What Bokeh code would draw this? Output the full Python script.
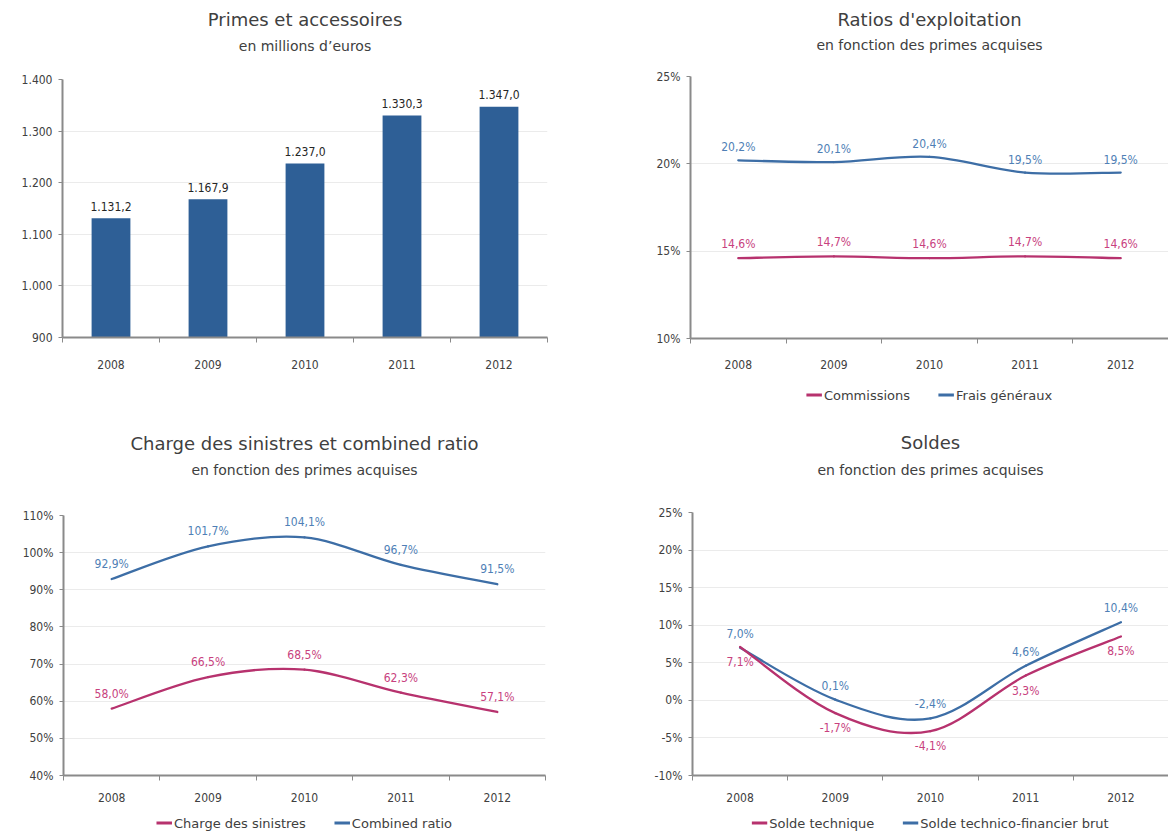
from bokeh.plotting import figure
from bokeh.models import Range1d, FixedTicker, Title, Legend, LegendItem, ColumnDataSource
from bokeh.layouts import column, row
from bokeh.core.properties import value
from bokeh.embed import file_html
from bokeh.resources import INLINE

# ---------------- data ----------------
years = ["2008", "2009", "2010", "2011", "2012"]

primes = [1131.2, 1167.9, 1237.0, 1330.3, 1347.0]
primes_ticks = [900, 1000, 1100, 1200, 1300, 1400]

commissions = [14.6, 14.7, 14.6, 14.7, 14.6]
frais_generaux = [20.2, 20.1, 20.4, 19.5, 19.5]
ratios_ticks = [10, 15, 20, 25]

charge_sinistres = [58.0, 66.5, 68.5, 62.3, 57.1]
combined_ratio = [92.9, 101.7, 104.1, 96.7, 91.5]
charge_ticks = [40, 50, 60, 70, 80, 90, 100, 110]

solde_technique = [7.1, -1.7, -4.1, 3.3, 8.5]
solde_tf_brut = [7.0, 0.1, -2.4, 4.6, 10.4]
soldes_ticks = [-10, -5, 0, 5, 10, 15, 20, 25]

# ---------------- style ----------------
TXT = "#404040"
AXIS = "#8A8A8A"
GRID = "#EBEBEB"
BAR = "#2E5F96"
BLUE = "#3D6EA6"
MAG = "#B7326E"
BLUE_LBL = "#4F7FB6"
MAG_LBL = "#C8417E"
FONT = "DejaVu Sans"
CFONT = "DejaVu Sans Condensed"

xs = list(range(len(years)))


def fr_num(v, dec=1):
    s = f"{v:,.{dec}f}"
    return s.replace(",", " ").replace(".", ",").replace(" ", ".")


def pct(v):
    return fr_num(v) + "%"


def make_fig(width, height, left, right, top, bottom, yr, yticks, ylabels, title, subtitle,
             spacer, sub_standoff, xlab_standoff):
    p = figure(width=width, height=height, x_range=Range1d(-0.5, 4.5), y_range=Range1d(*yr),
               output_backend="svg", toolbar_location=None, tools="",
               min_border_left=left, min_border_right=right,
               min_border_top=top, min_border_bottom=bottom)
    p.outline_line_color = None
    p.background_fill_color = "white"
    p.border_fill_color = "white"
    p.title.text = title
    p.title.align = "center"
    p.title.text_font = FONT
    p.title.text_font_size = "18px"
    p.title.text_font_style = "normal"
    p.title.text_color = TXT
    p.title.standoff = 4
    # spacer between the frame and the subtitle (closest to the frame)
    p.add_layout(Title(text=" ", text_font_size="2px", standoff=spacer), "above")
    st = Title(text=subtitle, align="center", text_font=FONT, text_font_size="14px",
               text_font_style="normal", text_color=TXT, standoff=sub_standoff)
    p.add_layout(st, "above")

    # x axis
    xa = p.xaxis[0]
    xa.ticker = FixedTicker(ticks=xs, minor_ticks=[i - 0.5 for i in range(len(years) + 1)])
    xa.major_label_overrides = {i: y for i, y in enumerate(years)}
    xa.major_tick_out = 0
    xa.major_tick_in = 0
    xa.minor_tick_out = 5
    xa.minor_tick_in = 0
    xa.minor_tick_line_color = AXIS
    xa.axis_line_color = AXIS
    xa.axis_line_width = 2
    xa.major_label_text_font = CFONT
    xa.major_label_text_font_size = "12px"
    xa.major_label_text_color = TXT
    xa.major_label_standoff = xlab_standoff

    ya = p.yaxis[0]
    ya.ticker = FixedTicker(ticks=yticks)
    ya.major_label_overrides = {t_: l for t_, l in zip(yticks, ylabels)}
    ya.minor_tick_line_color = None
    ya.major_tick_out = 4
    ya.major_tick_in = 0
    ya.major_tick_line_color = AXIS
    ya.axis_line_color = AXIS
    ya.axis_line_width = 2
    ya.major_label_text_font = CFONT
    ya.major_label_text_font_size = "12px"
    ya.major_label_text_color = TXT
    ya.major_label_standoff = 6

    p.xgrid.grid_line_color = None
    p.ygrid.grid_line_color = GRID
    p.ygrid.grid_line_width = 1
    return p


def smooth(p, ys, color, width=2.3):
    n = len(ys)
    d = dict(x0=[], y0=[], x1=[], y1=[], cx0=[], cy0=[], cx1=[], cy1=[])
    for i in range(n - 1):
        a = max(i - 1, 0)
        b = min(i + 2, n - 1)
        d["x0"].append(xs[i]); d["y0"].append(ys[i])
        d["x1"].append(xs[i + 1]); d["y1"].append(ys[i + 1])
        d["cx0"].append(xs[i] + (xs[i + 1] - xs[a]) / 6)
        d["cy0"].append(ys[i] + (ys[i + 1] - ys[a]) / 6)
        d["cx1"].append(xs[i + 1] - (xs[b] - xs[i]) / 6)
        d["cy1"].append(ys[i + 1] - (ys[b] - ys[i]) / 6)
    p.bezier(x0="x0", y0="y0", x1="x1", y1="y1", cx0="cx0", cy0="cy0", cx1="cx1", cy1="cy1",
             source=ColumnDataSource(d), line_color=color, line_width=width, line_cap="round")


def labels(p, ys, color, dy):
    p.text(x=xs, y=ys, text=[pct(v) for v in ys], text_align="center", text_baseline="middle",
           y_offset=dy, text_font=value(CFONT), text_font_size="12px", text_color=color)


def legend_fig(height, left, right, entries):
    f = figure(width=584, height=height, x_range=Range1d(0, 1), y_range=Range1d(0, 1),
               x_axis_type=None, y_axis_type=None, output_backend="svg",
               toolbar_location=None, tools="",
               min_border_left=left, min_border_right=right, min_border_top=0, min_border_bottom=0)
    f.outline_line_color = None
    f.grid.grid_line_color = None
    items = []
    nan = float("nan")
    for name, color in entries:
        r = f.line(x=[nan], y=[nan], line_color=color, line_width=3)
        items.append(LegendItem(label=name, renderers=[r]))
    lg = Legend(items=items, orientation="horizontal", location="center",
                border_line_color=None, background_fill_alpha=0,
                label_text_font=FONT, label_text_font_size="13px", label_text_color=TXT,
                glyph_width=16, glyph_height=14, label_standoff=2, spacing=28,
                padding=0, margin=0)
    f.add_layout(lg, "center")
    return f


# ---------- panel 1 ----------
p1 = make_fig(584, 417, 62, 37, 79, 80, (900, 1400), primes_ticks,
              [fr_num(v, 0) for v in primes_ticks],
              "Primes et accessoires", "en millions d\u2019euros", 17, 9, 17)
p1.vbar(x=xs, top=primes, bottom=900, width=0.4, fill_color=BAR, line_color=None)
p1.text(x=xs, y=primes, text=[fr_num(v) for v in primes], text_align="center",
        text_baseline="middle", y_offset=-12, text_font=value(CFONT), text_font_size="12px",
        text_color="#262626")

# ---------- panel 2 ----------
p2 = make_fig(584, 372, 106, 0, 76, 34, (10, 25), ratios_ticks,
              [f"{v}%" for v in ratios_ticks],
              "Ratios d'exploitation", "en fonction des primes acquises", 16, 7, 16)
smooth(p2, frais_generaux, BLUE)
smooth(p2, commissions, MAG)
labels(p2, frais_generaux, BLUE_LBL, -13)
labels(p2, commissions, MAG_LBL, -14)
l2 = legend_fig(45, 106, 0, [("Commissions", MAG), ("Frais g\u00e9n\u00e9raux", BLUE)])

# ---------- panel 3 ----------
p3 = make_fig(584, 393, 63, 39, 98, 35, (40, 110), charge_ticks,
              [f"{v}%" for v in charge_ticks],
              "Charge des sinistres et combined ratio", "en fonction des primes acquises",
              29, 9, 12)
smooth(p3, combined_ratio, BLUE)
smooth(p3, charge_sinistres, MAG)
labels(p3, combined_ratio, BLUE_LBL, -15)
labels(p3, charge_sinistres, MAG_LBL, -15)
l3 = legend_fig(25, 63, 39, [("Charge des sinistres", MAG), ("Combined ratio", BLUE)])

# ---------- panel 4 ----------
p4 = make_fig(584, 393, 108, 0, 95, 35, (-10, 25), soldes_ticks,
              [f"{v}%" for v in soldes_ticks],
              "Soldes", "en fonction des primes acquises", 25, 11, 12)
smooth(p4, solde_tf_brut, BLUE)
smooth(p4, solde_technique, MAG)
labels(p4, solde_tf_brut, BLUE_LBL, -14)
labels(p4, solde_technique, MAG_LBL, 15)
l4 = legend_fig(25, 108, 0, [("Solde technique", MAG), ("Solde technico-financier brut", BLUE)])

layout = column(row(p1, column(p2, l2)), row(column(p3, l3), column(p4, l4)))

with open("out.html", "w") as f:
    f.write(file_html(layout, INLINE))
